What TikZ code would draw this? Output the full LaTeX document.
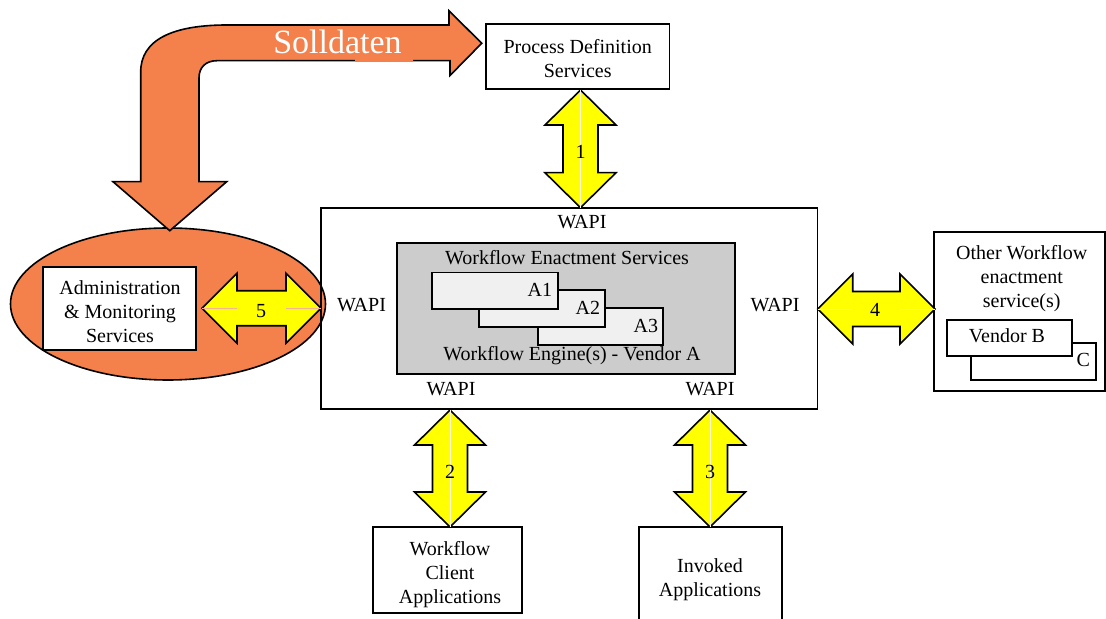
\documentclass[tikz,border=0pt]{standalone}
\usepackage{fontspec}
\setmainfont{Liberation Serif}
\usetikzlibrary{shapes.geometric}
\definecolor{orng}{RGB}{244,128,76}
\definecolor{gry}{RGB}{204,204,204}
\definecolor{lgry}{RGB}{240,240,240}
\definecolor{ylw}{RGB}{255,255,0}
\tikzset{
  ln/.style={line width=0.8pt},
  box/.style={ln, draw, rectangle, inner sep=0pt, outer sep=0pt},
  txt/.style={inner sep=0pt, outer sep=0pt, align=center, font=\fontsize{10}{12}\selectfont},
  yarr/.style={ln, draw=black, fill=ylw, line join=miter},
  thinw/.style={line width=0.35pt, draw=white!85!yellow},
  thino/.style={line width=0.35pt, draw=orng!60!white},
}
\newcommand{\vdbl}[2]{%
  \path[yarr] (#1) -- ++(35.5,35) -- ++(-18,0) -- ++(0,#2-70) -- ++(18,0)
    -- ++(-35.5,35) -- ++(-35.5,-35) -- ++(18,0) -- ++(0,-#2+70) -- ++(-18,0) -- cycle;}
\newcommand{\hdbl}[2]{%
  \path[yarr] (#1) -- ++(35,-35) -- ++(0,17.5) -- ++(#2-70,0) -- ++(0,-17.5)
    -- ++(35,35) -- ++(-35,35) -- ++(0,-17.5) -- ++(-#2+70,0) -- ++(0,17.5) -- cycle;}
\begin{document}
\begin{tikzpicture}[x=0.5pt,y=-0.5pt]
\useasboundingbox (0,0) rectangle (1106,619);

% ellipse for administration
\node[ln, draw, fill=orng, ellipse, inner sep=0pt, minimum width=157.5pt, minimum height=76pt] (ell) at (168,304) {};

% Solldaten arrow
\path[ln, draw, fill=orng, line join=miter]
  (140.7,181.7) -- (140.7,72) .. controls (140.7,40) and (172,25) .. (227,25)
  -- (449,25) -- (449,10.7) -- (481.7,43.3) -- (450,75.5) -- (450,60.7)
  -- (217,60.7) .. controls (206,60.7) and (199,67) .. (199,78)
  -- (199,181.7) -- (226.7,181.7) -- (169.8,230.7) -- (113,181.7) -- cycle;
\fill[orng] (355,57) rectangle (413,61.6);
\node[inner sep=0pt, anchor=base, text=white, font=\fontsize{17}{20}\selectfont] (sd) at (337.5,53.3) {Solldaten};

% main box
\node[box, minimum width=248.4pt, minimum height=100.5pt] (main) at (569.1,308.5) {};
\node[box, fill=gry, minimum width=169.15pt, minimum height=65.5pt] (eng) at (565.85,308.5) {};
\node[box, fill=lgry, minimum width=62.5pt, minimum height=18.5pt] (a3) at (600.5,326.5) {};
\node[box, fill=lgry, minimum width=63pt, minimum height=18.5pt] (a2) at (542,308.5) {};
\node[box, fill=lgry, minimum width=63pt, minimum height=18.15pt] (a1) at (494.7,290.85) {};
\node[txt, anchor=base east] at ([shift={(-5.7,24)}]a1.north east) {A1};
\node[txt, anchor=base east] at ([shift={(-5,25)}]a2.north east) {A2};
\node[txt, anchor=base east] at ([shift={(-5,25)}]a3.north east) {A3};
\node[txt, anchor=base] (wes) at (567,264.3) {Workflow Enactment Services};
\node[txt, anchor=base] (wev) at (572,360.7) {Workflow Engine(s) - Vendor A};

\node[txt, anchor=base] (wt) at (582,229) {WAPI};
\node[txt, anchor=base] (wl) at (361.5,312) {WAPI};
\node[txt, anchor=base] (wr) at (775,312) {WAPI};
\node[txt, anchor=base] (wbl) at (451,395.7) {WAPI};
\node[txt, anchor=base] (wbr) at (710,395.7) {WAPI};

% other workflow enactment services
\node[box, minimum width=85.5pt, minimum height=79.35pt] (other) at (1019.5,311.65) {};
\node[txt, anchor=north] at (1021.7,243.2) {\strut Other Workflow\\enactment\\service(s)};
\node[box, fill=white, minimum width=62.5pt, minimum height=18.5pt] (c) at (1033.5,361.5) {};
\node[box, fill=white, minimum width=62.5pt, minimum height=18pt] (vb) at (1009.5,338) {};
\node[txt, anchor=base] at (1007,342.3) {Vendor B};
\node[txt, anchor=base east] at (1090,366.7) {C};

% process definition
\node[box, fill=white, minimum width=91.65pt, minimum height=32.5pt] (pd) at (577.65,56.8) {};
\node[txt, anchor=north] at (577.65,36.5) {\strut Process Definition\\Services};

% administration
\node[box, fill=white, minimum width=76.65pt, minimum height=41.35pt] (adm) at (119.35,308.65) {};
\node[txt, anchor=north] at (120,278.2) {\strut Administration\\\&\ Monitoring\\Services};

% client and invoked
\node[box, fill=white, minimum width=74.5pt, minimum height=43pt] (cl) at (447.5,570) {};
\node[txt, anchor=north] at (450,538.2) {\strut Workflow\\Client\\Applications};
\node[box, fill=white, minimum width=71.5pt, minimum height=56.65pt] (inv) at (710.5,583.35) {};
\node[txt, anchor=north] at (710,555.9) {\strut Invoked\\Applications};

% interface arrows
\coordinate (a1t) at (580.5,90);
\coordinate (a2t) at (450,410);
\coordinate (a3t) at (710,410);
\coordinate (a4l) at (817.7,309);
\coordinate (a5l) at (202,308.3);
\vdbl{a1t}{117.7}
\vdbl{a2t}{117}
\vdbl{a3t}{117}
\hdbl{a4l}{117.3}
\hdbl{a5l}{119}
\draw[thinw] (a1t) -- ++(0,117.7);
\draw[thinw] (a2t) -- ++(0,117);
\draw[thinw] (a3t) -- ++(0,117);
\draw[thinw] (a4l) -- ++(34,0);
\draw[thinw] (a4l) ++(82,0) -- ++(35,0);
\draw[thino] (a5l) -- ++(35,0);
\draw[thino] (a5l) ++(84,0) -- ++(35,0);
\node[txt, anchor=base] at (580.5,159) {1};
\node[txt, anchor=base] at (450,478) {2};
\node[txt, anchor=base] at (710,478) {3};
\node[txt, anchor=base] at (875,317) {4};
\node[txt, anchor=base] at (261,318) {5};
\end{tikzpicture}
\end{document}
